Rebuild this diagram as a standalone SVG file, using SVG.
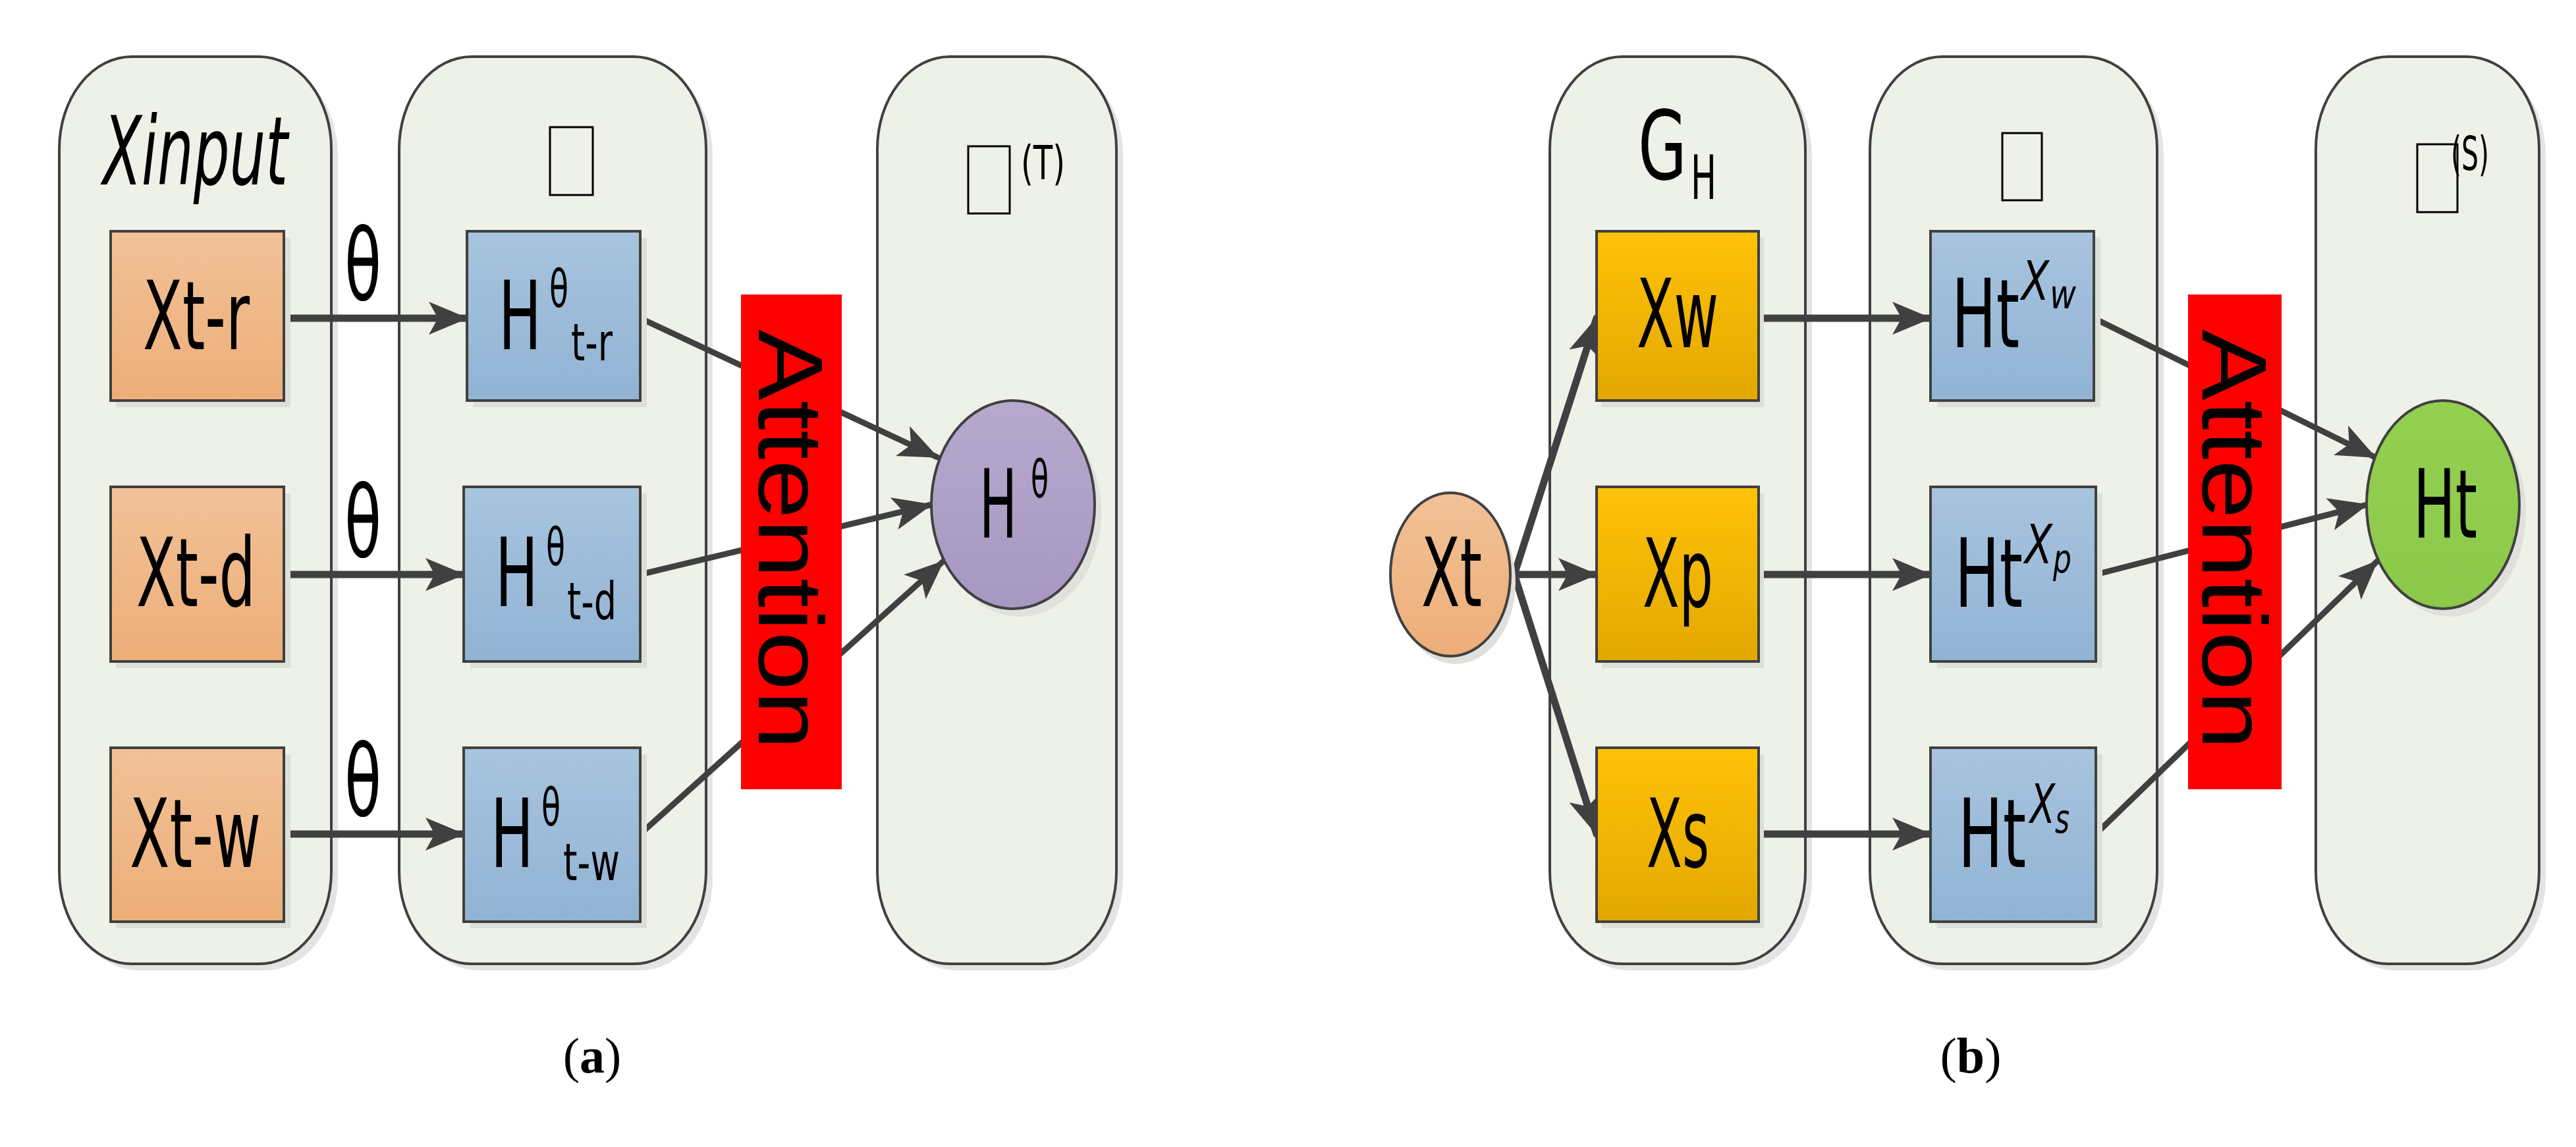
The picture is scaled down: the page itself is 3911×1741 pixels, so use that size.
<svg xmlns="http://www.w3.org/2000/svg" width="3911" height="1741" viewBox="0 0 3911 1741">
<defs>
<style>
.col{fill:#EEF1E8;stroke:#404040;stroke-width:4}
.colsh{fill:#E4E4E4}
.sh{fill:#DDE0D9}
.box{stroke:#404040;stroke-width:4}
.t{font-family:"DejaVu Sans Condensed","Liberation Sans Narrow","Liberation Sans",sans-serif;fill:#000}
.big{font-size:145px}
.sup{font-size:78px}
.arr{stroke:#404040;stroke-width:11;fill:none;stroke-linecap:round}
.ln{stroke:#404040;stroke-width:9;fill:none;stroke-linecap:round}
.tofu{fill:none;stroke:#000;stroke-width:3}
.cap{font-family:"Liberation Serif",serif;font-size:76px;fill:#000}
.att{font-family:"Liberation Sans",Arial,sans-serif;font-size:140px;fill:#000}
</style>
<linearGradient id="gO" x1="0" y1="0" x2="0" y2="1"><stop offset="0" stop-color="#F2C197"/><stop offset="1" stop-color="#EDAE78"/></linearGradient>
<linearGradient id="gB" x1="0" y1="0" x2="0" y2="1"><stop offset="0" stop-color="#A8C4DE"/><stop offset="1" stop-color="#91B3D4"/></linearGradient>
<linearGradient id="gY" x1="0" y1="0" x2="0" y2="1"><stop offset="0" stop-color="#FFC208"/><stop offset="1" stop-color="#E2A800"/></linearGradient>
<linearGradient id="gP" x1="0" y1="0" x2="0" y2="1"><stop offset="0" stop-color="#B6A9CE"/><stop offset="1" stop-color="#A797C1"/></linearGradient>
<linearGradient id="gG" x1="0" y1="0" x2="0" y2="1"><stop offset="0" stop-color="#94D050"/><stop offset="1" stop-color="#8CC84A"/></linearGradient>
<marker id="ah" viewBox="0 0 60 50" refX="58" refY="25" markerWidth="60" markerHeight="50" markerUnits="userSpaceOnUse" orient="auto">
<path d="M0,0 L60,25 L0,50 L14,25 Z" fill="#404040"/>
</marker>
</defs>
<rect width="3911" height="1741" fill="#fff"/>

<g id="columns">
<g id="colA1"><rect class="colsh" x="100" y="96" width="413" height="1377" rx="110" ry="140"/><rect class="col" x="90" y="86" width="413" height="1377" rx="110" ry="140"/></g>
<g id="colA2"><rect class="colsh" x="616" y="96" width="466" height="1377" rx="110" ry="140"/><rect class="col" x="606" y="86" width="466" height="1377" rx="110" ry="140"/></g>
<g id="colA3"><rect class="colsh" x="1342" y="96" width="363" height="1377" rx="110" ry="140"/><rect class="col" x="1332" y="86" width="363" height="1377" rx="110" ry="140"/></g>
<g id="colB1"><rect class="colsh" x="2363" y="96" width="388" height="1377" rx="110" ry="140"/><rect class="col" x="2353" y="86" width="388" height="1377" rx="110" ry="140"/></g>
<g id="colB2"><rect class="colsh" x="2849" y="96" width="436" height="1377" rx="110" ry="140"/><rect class="col" x="2839" y="86" width="436" height="1377" rx="110" ry="140"/></g>
<g id="colB3"><rect class="colsh" x="3526" y="96" width="339" height="1377" rx="110" ry="140"/><rect class="col" x="3516" y="86" width="339" height="1377" rx="110" ry="140"/></g>
</g>

<g id="headers">
<text class="t big" x="156" y="280" font-style="italic" textLength="281" lengthAdjust="spacingAndGlyphs">Xinput</text>
<rect class="tofu" x="835" y="193" width="65" height="103"/>
<rect class="tofu" x="1470" y="222" width="63" height="102"/>
<text class="t" x="1550" y="272" font-size="72" textLength="67" lengthAdjust="spacingAndGlyphs">(T)</text>
<text class="t big" x="2487" y="272" textLength="74" lengthAdjust="spacingAndGlyphs">G</text>
<text class="t" x="2567" y="302" font-size="92" textLength="39" lengthAdjust="spacingAndGlyphs">H</text>
<rect class="tofu" x="3040" y="202" width="60" height="102"/>
<rect class="tofu" x="3670" y="219" width="61" height="103"/>
<text class="t" x="3721" y="258" font-size="72" textLength="58" lengthAdjust="spacingAndGlyphs">(S)</text>
</g>

<g id="connectors">
<path class="arr" d="M433,483 L709,483" marker-end="url(#ah)"/>
<path class="arr" d="M433,872 L704,872" marker-end="url(#ah)"/>
<path class="arr" d="M433,1266 L704,1266" marker-end="url(#ah)"/>
<path class="ln" d="M972,483 L1423,694" marker-end="url(#ah)"/>
<path class="ln" d="M972,872 L1414,766" marker-end="url(#ah)"/>
<path class="ln" d="M972,1266 L1432,852" marker-end="url(#ah)"/>
<path class="arr" d="M2299,872 L2424,483" marker-end="url(#ah)"/>
<path class="arr" d="M2299,872 L2424,872" marker-end="url(#ah)"/>
<path class="arr" d="M2299,872 L2424,1266" marker-end="url(#ah)"/>
<path class="arr" d="M2670,483 L2931,483" marker-end="url(#ah)"/>
<path class="arr" d="M2670,872 L2931,872" marker-end="url(#ah)"/>
<path class="arr" d="M2670,1266 L2931,1266" marker-end="url(#ah)"/>
<path class="ln" d="M3179,483 L3606,694" marker-end="url(#ah)"/>
<path class="ln" d="M3182,872 L3594,766" marker-end="url(#ah)"/>
<path class="ln" d="M3182,1266 L3609,852" marker-end="url(#ah)"/>
<text class="t" x="523" y="455" font-size="150" textLength="56" lengthAdjust="spacingAndGlyphs">θ</text>
<text class="t" x="523" y="845" font-size="150" textLength="56" lengthAdjust="spacingAndGlyphs">θ</text>
<text class="t" x="523" y="1238" font-size="150" textLength="56" lengthAdjust="spacingAndGlyphs">θ</text>
</g>

<g id="Xtr"><rect class="sh" x="176" y="361" width="265" height="257"/><rect class="box" x="168" y="351" width="263" height="257" fill="url(#gO)"/><text class="t big" x="217" y="530" textLength="162" lengthAdjust="spacingAndGlyphs">Xt-r</text></g>
<g id="Xtd"><rect class="sh" x="176" y="749" width="265" height="265"/><rect class="box" x="168" y="739" width="263" height="265" fill="url(#gO)"/><text class="t big" x="207" y="920" textLength="181" lengthAdjust="spacingAndGlyphs">Xt-d</text></g>
<g id="Xtw"><rect class="sh" x="176" y="1145" width="265" height="264"/><rect class="box" x="168" y="1135" width="263" height="264" fill="url(#gO)"/><text class="t big" x="197" y="1316" textLength="199" lengthAdjust="spacingAndGlyphs">Xt-w</text></g>

<g id="Htr"><rect class="sh" x="719" y="361" width="263" height="257"/><rect class="box" x="709" y="351" width="263" height="257" fill="url(#gB)"/><text class="t big" x="757" y="530" textLength="65" lengthAdjust="spacingAndGlyphs">H</text><text class="t sup" x="834" y="466" textLength="29" lengthAdjust="spacingAndGlyphs">θ</text><text class="t sup" x="867" y="547" textLength="63" lengthAdjust="spacingAndGlyphs">t-r</text></g>
<g id="Htd"><rect class="sh" x="714" y="749" width="268" height="265"/><rect class="box" x="704" y="739" width="268" height="265" fill="url(#gB)"/><text class="t big" x="752" y="920" textLength="65" lengthAdjust="spacingAndGlyphs">H</text><text class="t sup" x="829" y="858" textLength="29" lengthAdjust="spacingAndGlyphs">θ</text><text class="t sup" x="861" y="940" textLength="75" lengthAdjust="spacingAndGlyphs">t-d</text></g>
<g id="Htw"><rect class="sh" x="714" y="1145" width="268" height="264"/><rect class="box" x="704" y="1135" width="268" height="264" fill="url(#gB)"/><text class="t big" x="745" y="1316" textLength="65" lengthAdjust="spacingAndGlyphs">H</text><text class="t sup" x="822" y="1253" textLength="29" lengthAdjust="spacingAndGlyphs">θ</text><text class="t sup" x="855" y="1336" textLength="86" lengthAdjust="spacingAndGlyphs">t-w</text></g>

<g id="attA"><rect x="1125" y="447" width="153" height="751" fill="#FF0000"/><text class="att" transform="translate(1152,819) rotate(90)" text-anchor="middle" textLength="638" lengthAdjust="spacingAndGlyphs">Attention</text></g>

<g id="Htheta"><ellipse cx="1548" cy="778" rx="124" ry="158" fill="#E0E0DC"/><ellipse cx="1538" cy="766" rx="124" ry="158" fill="url(#gP)" stroke="#404040" stroke-width="4"/><text class="t big" x="1487" y="816" textLength="57" lengthAdjust="spacingAndGlyphs">H</text><text class="t sup" x="1565" y="755" textLength="27" lengthAdjust="spacingAndGlyphs">θ</text></g>

<g id="Xt"><ellipse cx="2210" cy="884" rx="91" ry="124" fill="#E0E0DC"/><ellipse cx="2202" cy="872" rx="91" ry="124" fill="url(#gO)" stroke="#404040" stroke-width="4"/><text class="t big" x="2158" y="920" textLength="92" lengthAdjust="spacingAndGlyphs">Xt</text></g>
<g id="Xw"><rect class="sh" x="2432" y="361" width="246" height="257"/><rect class="box" x="2424" y="351" width="246" height="257" fill="url(#gY)"/><text class="t big" x="2485" y="527" textLength="124" lengthAdjust="spacingAndGlyphs">Xw</text></g>
<g id="Xp"><rect class="sh" x="2432" y="749" width="246" height="265"/><rect class="box" x="2424" y="739" width="246" height="265" fill="url(#gY)"/><text class="t big" x="2494" y="921" textLength="107" lengthAdjust="spacingAndGlyphs">Xp</text></g>
<g id="Xs"><rect class="sh" x="2432" y="1145" width="246" height="264"/><rect class="box" x="2424" y="1135" width="246" height="264" fill="url(#gY)"/><text class="t big" x="2500" y="1316" textLength="95" lengthAdjust="spacingAndGlyphs">Xs</text></g>

<g id="HtXw"><rect class="sh" x="2941" y="361" width="248" height="257"/><rect class="box" x="2931" y="351" width="248" height="257" fill="url(#gB)"/><text class="t big" x="2963" y="527" textLength="103" lengthAdjust="spacingAndGlyphs">Ht</text><text class="t" x="3069" y="455" font-size="82" font-style="italic" textLength="42" lengthAdjust="spacingAndGlyphs">X</text><text class="t" x="3112" y="468" font-size="60" font-style="italic" textLength="40" lengthAdjust="spacingAndGlyphs">w</text></g>
<g id="HtXp"><rect class="sh" x="2941" y="749" width="251" height="265"/><rect class="box" x="2931" y="739" width="251" height="265" fill="url(#gB)"/><text class="t big" x="2968" y="921" textLength="103" lengthAdjust="spacingAndGlyphs">Ht</text><text class="t" x="3074" y="855" font-size="82" font-style="italic" textLength="42" lengthAdjust="spacingAndGlyphs">X</text><text class="t" x="3117" y="870" font-size="60" font-style="italic" textLength="28" lengthAdjust="spacingAndGlyphs">p</text></g>
<g id="HtXs"><rect class="sh" x="2941" y="1145" width="251" height="264"/><rect class="box" x="2931" y="1135" width="251" height="264" fill="url(#gB)"/><text class="t big" x="2973" y="1316" textLength="103" lengthAdjust="spacingAndGlyphs">Ht</text><text class="t" x="3082" y="1249" font-size="82" font-style="italic" textLength="38" lengthAdjust="spacingAndGlyphs">X</text><text class="t" x="3120" y="1264" font-size="60" font-style="italic" textLength="22" lengthAdjust="spacingAndGlyphs">s</text></g>

<g id="attB"><rect x="3322" y="447" width="142" height="751" fill="#FF0000"/><text class="att" transform="translate(3344,819) rotate(90)" text-anchor="middle" textLength="638" lengthAdjust="spacingAndGlyphs">Attention</text></g>

<g id="Ht"><ellipse cx="3719" cy="778" rx="116" ry="158" fill="#E0E0DC"/><ellipse cx="3709" cy="766" rx="116" ry="158" fill="url(#gG)" stroke="#404040" stroke-width="4"/><text class="t big" x="3664" y="816" textLength="97" lengthAdjust="spacingAndGlyphs">Ht</text></g>

<text class="cap" x="899" y="1628" text-anchor="middle">(<tspan font-weight="bold">a</tspan>)</text>
<text class="cap" x="2992" y="1628" text-anchor="middle">(<tspan font-weight="bold">b</tspan>)</text>
</svg>
